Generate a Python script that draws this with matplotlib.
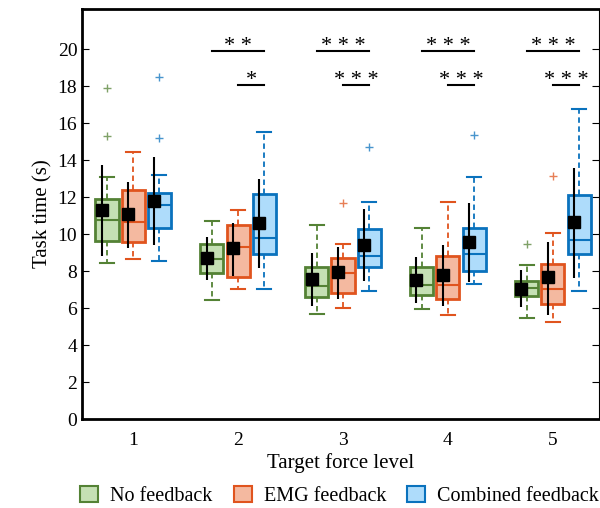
import numpy as np
import matplotlib
matplotlib.use("Agg")
import matplotlib.pyplot as plt
from matplotlib.patches import Patch

plt.rcParams['font.family'] = ['Liberation Serif', 'DejaVu Serif']
plt.rcParams['font.size'] = 14

levels = [1, 2, 3, 4, 5]
conditions = ["No feedback", "EMG feedback", "Combined feedback"]

# box statistics per condition, one value per force level
q1 = {
    "No feedback": [9.62, 7.89, 6.60, 6.70, 6.65],
    "EMG feedback": [9.57, 7.68, 6.82, 6.49, 6.22],
    "Combined feedback": [10.32, 8.92, 8.22, 8.00, 8.92],
}
med = {
    "No feedback": [10.76, 8.65, 7.20, 7.24, 7.08],
    "EMG feedback": [10.65, 9.30, 7.90, 7.24, 7.03],
    "Combined feedback": [11.57, 9.78, 8.81, 8.92, 9.68],
}
q3 = {
    "No feedback": [11.89, 9.46, 8.22, 8.22, 7.46],
    "EMG feedback": [12.38, 10.49, 8.70, 8.81, 8.38],
    "Combined feedback": [12.20, 12.16, 10.27, 10.32, 12.10],
}
whis_lo = {
    "No feedback": [8.43, 6.43, 5.68, 5.95, 5.46],
    "EMG feedback": [8.65, 7.03, 6.00, 5.62, 5.24],
    "Combined feedback": [8.54, 7.03, 6.92, 7.30, 6.92],
}
whis_hi = {
    "No feedback": [13.08, 10.70, 10.50, 10.32, 8.32],
    "EMG feedback": [14.45, 11.30, 9.46, 11.73, 10.05],
    "Combined feedback": [13.20, 15.50, 11.73, 13.08, 16.76],
}
fliers = {
    "No feedback": [[17.9, 15.3], [], [], [], [9.46]],
    "EMG feedback": [[], [], [11.68], [], [13.13]],
    "Combined feedback": [[18.5, 15.2], [], [14.7], [15.35], []],
}
means = {
    "No feedback": [11.30, 8.70, 7.60, 7.51, 7.03],
    "EMG feedback": [11.08, 9.24, 7.95, 7.78, 7.68],
    "Combined feedback": [11.80, 10.60, 9.40, 9.57, 10.65],
}
err_lo = {
    "No feedback": [8.80, 7.50, 6.10, 6.27, 6.05],
    "EMG feedback": [9.24, 7.73, 6.49, 6.10, 5.62],
    "Combined feedback": [9.40, 8.16, 7.46, 7.40, 7.62],
}
err_hi = {
    "No feedback": [13.73, 9.84, 9.00, 8.76, 8.05],
    "EMG feedback": [12.80, 10.60, 9.30, 9.40, 9.57],
    "Combined feedback": [14.16, 12.97, 11.35, 11.70, 13.57],
}

# significance bars: level, label, start condition index (ends at combined), height
sig_level = [2, 2, 3, 3, 4, 4, 5, 5]
sig_label = ["* *", "*", "* * *", "* * *", "* * *", "* * *", "* * *", "* * *"]
sig_from = [0, 1, 0, 1, 0, 1, 0, 1]
sig_y = [19.9, 18.05, 19.9, 18.05, 19.9, 18.05, 19.9, 18.05]

face = ["#c5e0b4", "#f4b9a0", "#aedcfb"]
edge = ["#548235", "#e0541e", "#0a72bd"]
offsets = [-0.25, 0.0, 0.25]
width = 0.22

fig = plt.figure(figsize=(6.0, 5.08), dpi=100)
ax = fig.add_axes([0.137, 0.175, 0.861, 0.807])

for ci, cond in enumerate(conditions):
    stats = []
    for li in range(len(levels)):
        stats.append(dict(med=med[cond][li], q1=q1[cond][li], q3=q3[cond][li],
                          whislo=whis_lo[cond][li], whishi=whis_hi[cond][li],
                          fliers=fliers[cond][li]))
    pos = np.array(levels) + offsets[ci]
    ax.bxp(stats, positions=pos, widths=width, patch_artist=True,
           showfliers=True, manage_ticks=False,
           boxprops=dict(facecolor=face[ci], edgecolor=edge[ci], linewidth=2),
           medianprops=dict(color=edge[ci], linewidth=1.5),
           whiskerprops=dict(color=edge[ci], linestyle=(0, (3, 2)), linewidth=1.3),
           capprops=dict(color=edge[ci], linewidth=1.5),
           capwidths=width * 0.6,
           flierprops=dict(marker='+', markeredgecolor=edge[ci], markersize=6,
                           markeredgewidth=1, alpha=0.75))
    mpos = pos - 0.05
    ax.vlines(mpos, err_lo[cond], err_hi[cond], color='black', linewidth=1.5, zorder=4)
    ax.plot(mpos, means[cond], 's', color='black', markersize=9, zorder=5)

for lv, lab, fi, yv in zip(sig_level, sig_label, sig_from, sig_y):
    x0 = lv + offsets[fi]
    x1 = lv + offsets[2]
    ax.plot([x0, x1], [yv, yv], color='black', linewidth=1.5)
    ax.text((x0 + x1) / 2, yv, lab, ha='center', va='baseline', fontsize=16)

ax.set_xlim(0.514, 5.438)
ax.set_ylim(0, 22.16)
ax.set_yticks(np.arange(0, 21, 2))
ax.set_xticks(levels)
ax.set_xticklabels([str(v) for v in levels])
ax.tick_params(axis='y', direction='in', length=5, right=True, labelsize=14)
ax.tick_params(axis='x', length=0, pad=9, labelsize=14)
ax.set_xlabel("Target force level", fontsize=15, labelpad=3)
ax.set_ylabel("Task time (s)", fontsize=15)
for s in ['left', 'bottom', 'top']:
    ax.spines[s].set_linewidth(2)
ax.spines['right'].set_linewidth(0.8)

handles = [Patch(facecolor=face[i], edgecolor=edge[i], linewidth=1.5, label=conditions[i])
           for i in range(3)]
fig.legend(handles=handles, loc='center', bbox_to_anchor=(0.566, 0.024), ncol=3,
           frameon=False, fontsize=14.5, handlelength=0.9, handleheight=0.9,
           columnspacing=1.05, handletextpad=0.6)

fig.savefig("out.png", dpi=100)
